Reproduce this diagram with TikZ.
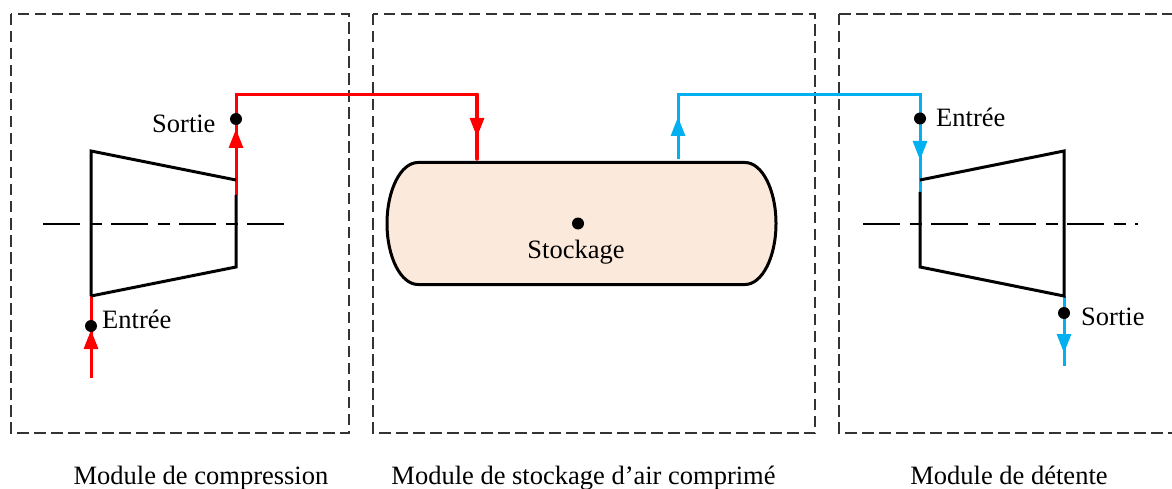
\documentclass[tikz,border=0pt]{standalone}
\usepackage{fontspec}
\setmainfont{Liberation Serif}
\usetikzlibrary{arrows.meta}
\definecolor{airred}{RGB}{255,0,0}
\definecolor{airblue}{RGB}{0,176,240}
\definecolor{tankfill}{RGB}{251,233,220}
\tikzset{
  modulebox/.style={draw=black!80,line width=1.4pt,dash pattern=on 11.5pt off 5.5pt},
  axisline/.style={draw=black,line width=2pt,dash pattern=on 37pt off 9.5pt on 12pt off 9.5pt},
  machine/.style={draw=black,line width=3pt,line join=miter},
  redpipe/.style={draw=airred,line width=3pt,line join=miter},
  bluepipe/.style={draw=airblue,line width=3pt,line join=miter},
  redhead/.style={redpipe,-{Triangle[length=19pt,width=14pt,fill=airred]}},
  bluehead/.style={bluepipe,-{Triangle[length=19pt,width=14pt,fill=airblue]}},
  port/.style={circle,fill=black,inner sep=0pt,minimum size=12pt},
  lbl/.style={inner sep=0pt,font=\fontsize{26.5pt}{30pt}\selectfont},
}
\begin{document}
\begin{tikzpicture}[x=1pt,y=-1pt]
\useasboundingbox (0,0) rectangle (1172,489);
% module frames
\draw[modulebox] (11,14) rectangle (349,433);
\draw[modulebox] (373,14) rectangle (815,433);
\draw[modulebox] (839,14) -- (1172,14);
\draw[modulebox] (839,14) -- (839,433) -- (1172,433);
% axes
\draw[axisline] (43,223.5) -- (285,223.5);
\draw[axisline] (863,223.5) -- (1138,223.5);
% tank
\draw[machine,fill=tankfill] (418,162.5) -- (745,162.5) arc[start angle=90,end angle=-90,x radius=31,y radius=-61]
  -- (418,284.5) arc[start angle=270,end angle=90,x radius=31,y radius=-61] -- cycle;
% coordinates
\coordinate (cA) at (91,378);
\coordinate (cAtip) at (91,330);
\coordinate (cAend) at (91,296);
\coordinate (cBstart) at (236,195);
\coordinate (cBtip) at (236,129);
\coordinate (cC) at (236,95);
\coordinate (cD) at (477,95);
\coordinate (cDtip) at (477,137);
\coordinate (cE) at (477,158.5);
\coordinate (dA) at (678,159);
\coordinate (dAtip) at (678,117);
\coordinate (dB) at (678,95);
\coordinate (dC) at (920,95);
\coordinate (dCtip) at (920,160);
\coordinate (dD) at (920,192);
\coordinate (dE) at (1064,296);
\coordinate (dEtip) at (1064,353);
\coordinate (dF) at (1064,366);
% pipes
\draw[redpipe] (cAend) -- (cA);
\draw[redhead] (cA) -- (cAtip);
\draw[redpipe] (cBstart) -- (cC) -- (cD);
\draw[redhead] (cBstart) -- (cBtip);
\draw[redhead] (cD) -- (cDtip);
\draw[redpipe,line width=4.6pt,line cap=round] (cD) -- (cE);
\draw[bluepipe] (dA) -- (dB) -- (dC) -- (dD);
\draw[bluehead] (dA) -- (dAtip);
\draw[bluehead] (dC) -- (dCtip);
\draw[bluepipe] (dE) -- (dF);
\draw[bluehead] (dE) -- (dEtip);
% machines
\draw[machine] (91,296) -- (91,151) -- (236,180);
\draw[machine] (236,195) -- (236,267) -- (91,296);
\draw[machine] (920,180) -- (1064,151) -- (1064,296) -- (920,267) -- (920,192);
% ports
\node[port] (p1) at (236,119) {};
\node[port] (p2) at (91,326) {};
\node[port] (p3) at (578,223.5) {};
\node[port] (p4) at (920,118.5) {};
\node[port] (p5) at (1064,313) {};
% labels
\node[lbl,anchor=base west] (t1) at (152,133) {Sortie};
\node[lbl,anchor=base west] (t2) at (102,328) {Entrée};
\node[lbl,anchor=base] (t3) at (576,258) {Stockage};
\node[lbl,anchor=base west] (t4) at (936,127) {Entrée};
\node[lbl,anchor=base west] (t5) at (1081,325) {Sortie};
\node[lbl,anchor=base] (c1) at (201,484) {Module de compression};
\node[lbl,anchor=base] (c2) at (583.5,484) {Module de stockage d’air comprimé};
\node[lbl,anchor=base] (c3) at (1009,484) {Module de détente};
\end{tikzpicture}
\end{document}
